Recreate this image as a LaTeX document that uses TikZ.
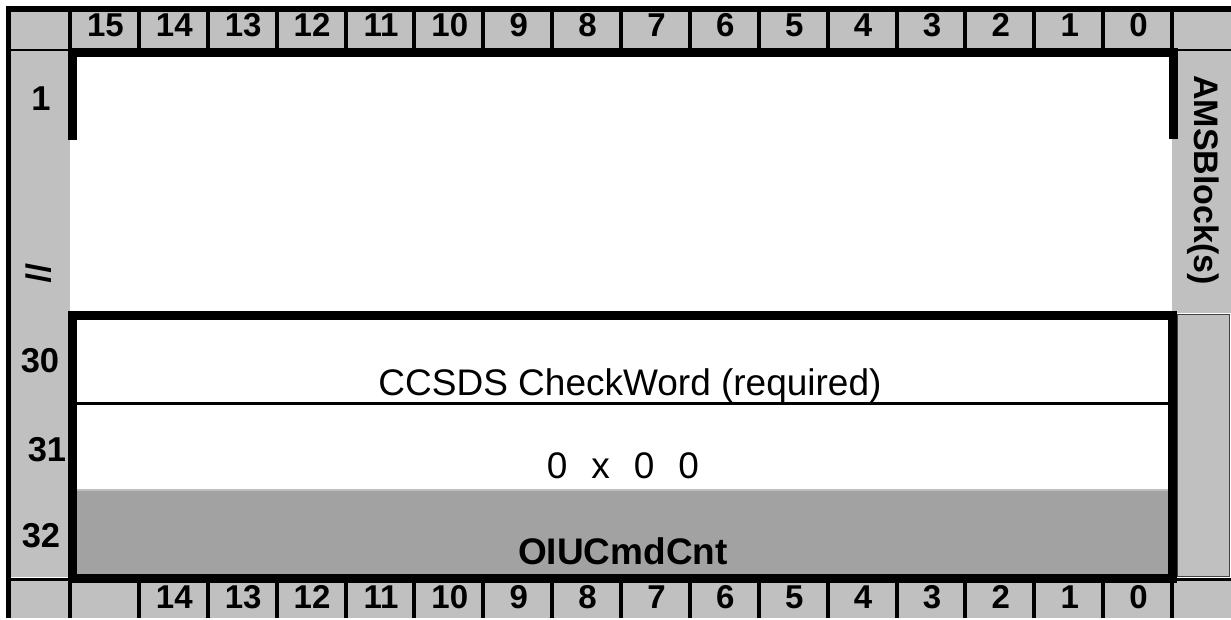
\documentclass[tikz,border=0pt]{standalone}
\usepackage{fontspec}
\setmainfont{Liberation Sans}
\definecolor{cellgray}{HTML}{C0C0C0}
\definecolor{shadegray}{HTML}{A2A2A2}
\definecolor{edgegray}{HTML}{404040}
\begin{document}
\begin{tikzpicture}[x=1pt,y=-1pt,
  lbl/.style={font=\fontsize{34.5}{38}\selectfont\bfseries, inner sep=0pt},
  bitlbl/.style={font=\fontsize{33}{36}\selectfont\bfseries, inner sep=0pt, anchor=base},
  bigtxt/.style={font=\fontsize{37}{42}\selectfont, inner sep=0pt},
  sep/.style={line width=4pt},
  frame/.style={line width=9pt},
  border/.style={line width=5pt}]
\useasboundingbox (0,0) rectangle (1231,620);
% header row
\fill[cellgray] (10,12) rectangle (1231,49);
\foreach \k in {0,...,16} \draw[sep] ({70+68.875*\k},12) -- ({70+68.875*\k},49);
\foreach \k in {0,...,15} {
  \pgfmathtruncatemacro{\bit}{15-\k}
  \node[bitlbl] (h\k) at ({70+68.875*(\k+0.5)+1},36.5) {\bit};
}
\draw[line width=2pt] (10,50) -- (1231,50);
% side columns
\fill[cellgray] (11,51) rectangle (70,577);
\fill[cellgray] (1172,51) rectangle (1231,313);
\filldraw[fill=cellgray, draw=edgegray, line width=1.5pt] (1177.5,314.5) rectangle (1229.5,576.5);
% bottom row
\fill[cellgray] (10,580) rectangle (1231,618);
\draw[line width=3pt] (10,579) -- (1231,579);
\foreach \k in {0,...,16} \draw[sep] ({70+68.875*\k},580) -- ({70+68.875*\k},618);
\foreach \k in {1,...,15} {
  \pgfmathtruncatemacro{\bit}{15-\k}
  \node[bitlbl] (b\k) at ({70+68.875*(\k+0.5)+1},608.5) {\bit};
}
% shaded row
\fill[fill=shadegray] (72,490) rectangle (1172,574);
\draw[line width=1.5pt, black!25] (72,490) -- (1172,490);
\draw[line width=3pt] (72,403) -- (1172,403);
% frames
\draw[frame] (72,578) rectangle (1172,315.5);
\draw[frame] (72,140) -- (72,52.5) -- (1173,52.5) -- (1173,139);
% outer border
\draw[line width=6pt] (6,9) -- (1231,9);
\draw[border] (8.5,6) -- (8.5,618);
% labels
\node[lbl] (r1) at (41,99) {1};
\node[lbl, rotate=-90] (brk) at (39,273) {//};
\node[lbl] (r30) at (40,361) {30};
\node[lbl] (r31) at (47,450) {31};
\node[lbl] (r32) at (41,536) {32};
\node[lbl, font=\fontsize{34}{38}\selectfont\bfseries, rotate=-90] (ams) at (1203,180) {AMSBlock(s)};
\node[bigtxt] (ccsds) at (630,386) {CCSDS CheckWord (required)};
\node[bigtxt] (hex) at (623,466) {0\hspace{24pt}x\hspace{24pt}0\hspace{24pt}0};
\node[bigtxt, font=\fontsize{37}{42}\selectfont\bfseries] (cnt) at (623,551) {OIUCmdCnt};
\end{tikzpicture}
\end{document}
